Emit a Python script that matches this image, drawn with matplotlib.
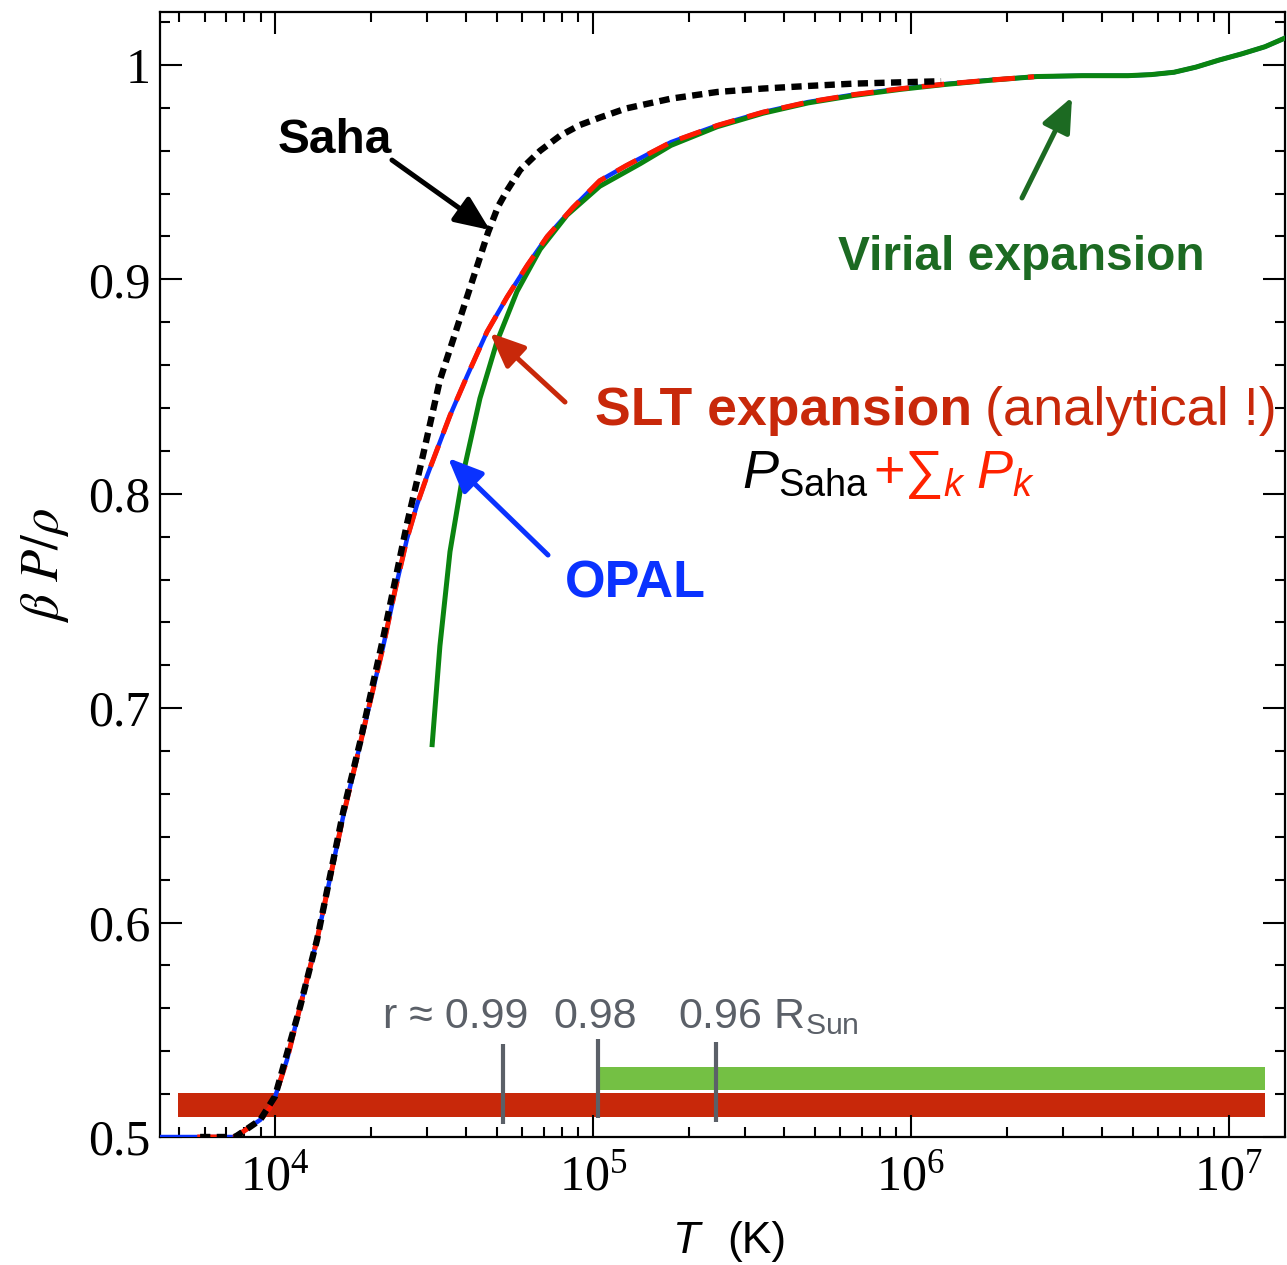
import numpy as np
import matplotlib
matplotlib.use("Agg")
import matplotlib.pyplot as plt

plt.rcParams['mathtext.fontset'] = 'stix'
plt.rcParams['mathtext.rm'] = 'Liberation Sans'
plt.rcParams['mathtext.it'] = 'Liberation Sans:italic'
plt.rcParams['mathtext.bf'] = 'Liberation Sans:bold'
plt.rcParams['mathtext.sf'] = 'Liberation Sans'
plt.rcParams['font.family'] = 'Liberation Sans'

# ---- data (T in K, beta P / rho) ----
opal_T = [4350, 7480, 7930, 8980, 9640, 10000, 10900, 12000, 13550, 16400, 18500,
          21900, 23850, 26000, 27970, 30100, 32400, 35500, 40200, 46400, 53700, 62100,
          71800, 86500, 105000, 127000, 176000, 246000, 343000, 475000, 663000, 925000,
          1.28e6, 1.79e6, 2.49e6, 3.46e6, 4.82e6, 5.70e6, 6.73e6, 7.89e6, 9.33e6,
          1.10e7, 1.30e7, 1.50e7]
opal_y = [0.500, 0.500, 0.5025, 0.508, 0.5135, 0.5187, 0.536, 0.561, 0.592, 0.650, 0.683,
          0.729, 0.755, 0.779, 0.795, 0.8085, 0.821, 0.8365, 0.855, 0.8755, 0.8918, 0.9065,
          0.920, 0.9335, 0.946, 0.953, 0.964, 0.9718, 0.978, 0.9827, 0.9862, 0.9889,
          0.9911, 0.993, 0.9946, 0.995, 0.995, 0.9955, 0.9966, 0.9990, 1.0023,
          1.0052, 1.0085, 1.0125]

slt_T = [5690, 7480, 7930, 8980, 9640, 10000, 10900, 12000, 13550, 16400, 18500,
         21900, 23850, 26000, 27970, 30100, 32400, 35500, 40200, 46400, 53700, 62100,
         71800, 86500, 105000, 127000, 176000, 246000, 343000, 475000, 663000, 925000,
         1.28e6, 1.79e6, 2.44e6]
slt_y = [0.500, 0.500, 0.5025, 0.508, 0.5135, 0.5187, 0.536, 0.561, 0.592, 0.650, 0.683,
         0.729, 0.755, 0.779, 0.795, 0.8085, 0.821, 0.8365, 0.855, 0.8755, 0.8918, 0.9065,
         0.920, 0.9335, 0.946, 0.953, 0.964, 0.9718, 0.978, 0.9827, 0.9862, 0.9889,
         0.9911, 0.993, 0.9945]

virial_T = [31200, 33000, 35500, 39000, 44100, 49900, 57700, 68200, 82900, 105000,
            141000, 176000, 246000, 343000, 475000, 663000, 925000, 1.28e6, 1.79e6,
            2.49e6, 3.46e6, 4.82e6, 5.70e6, 6.73e6, 7.89e6, 9.33e6, 1.10e7, 1.30e7, 1.50e7]
virial_y = [0.683, 0.729, 0.773, 0.809, 0.8445, 0.871, 0.8944, 0.914, 0.930, 0.9434,
            0.954, 0.9625, 0.9712, 0.9775, 0.9823, 0.9858, 0.9886, 0.9909, 0.9929,
            0.9946, 0.995, 0.995, 0.9955, 0.9966, 0.9990, 1.0023, 1.0052, 1.0085, 1.0125]

saha_T = [5810, 7480, 7930, 8980, 10000, 12000, 13550, 16400, 18500, 21900, 26000,
          29200, 33000, 39600, 43500, 46800, 50300, 53700, 59000, 68200, 78800, 91000,
          105300, 127000, 176000, 246000, 343000, 475000, 663000, 925000, 1.245e6]
saha_y = [0.500, 0.500, 0.5025, 0.508, 0.519, 0.561, 0.592, 0.652, 0.684, 0.733, 0.786,
          0.818, 0.853, 0.889, 0.9075, 0.922, 0.934, 0.9415, 0.951, 0.960, 0.967, 0.972,
          0.9755, 0.9797, 0.9843, 0.9874, 0.989, 0.9902, 0.9913, 0.9919, 0.9924]

# solar-profile bands and radius markers
band_red_T = [4950, 1.30e7]
band_red_lo, band_red_hi = 0.5093, 0.5205
band_green_T = [104000, 1.30e7]
band_green_lo, band_green_hi = 0.5219, 0.5326

rmark_T = [52100, 103800, 243800]
rmark_top = [0.5435, 0.5457, 0.5443]
rmark_bot = [0.5061, 0.5089, 0.5071]

ytick_vals = [0.5, 0.6, 0.7, 0.8, 0.9, 1.0]
ytick_labels = ['0.5', '0.6', '0.7', '0.8', '0.9', '1']

# ---- colours ----
c_opal = '#0a32ff'
c_slt = '#ff1a00'
c_virial = '#0a8410'
c_virial_txt = '#1c6a22'
c_slt_txt = '#c8280a'
c_gray = '#5b6068'

fig = plt.figure(figsize=(12.87, 12.65), dpi=100)
ax = fig.add_axes([160/1287, 128/1265, 1125/1287, 1125/1265])

ax.fill_between(band_red_T, band_red_lo, band_red_hi, color='#c8280a', lw=0, zorder=1)
ax.fill_between(band_green_T, band_green_lo, band_green_hi, color='#74c044', lw=0, zorder=1)
ax.vlines(rmark_T, rmark_bot, rmark_top, color=c_gray, lw=3, zorder=2)

ax.plot(opal_T, opal_y, color=c_opal, lw=3.2, zorder=3)
ax.plot(virial_T, virial_y, color=c_virial, lw=3.6, zorder=4)
ax.plot(slt_T, slt_y, color=c_slt, lw=3.6, dashes=(4.5, 2.6), zorder=5)
ax.plot(saha_T, saha_y, color='black', lw=4.6, dashes=(1.6, 1.0), zorder=6)

ax.set_xscale('log')
ax.set_xlim(4345, 1.503e7)
ax.set_ylim(0.5, 1.0247)
ax.set_yticks(ytick_vals)
ax.set_yticklabels(ytick_labels)
ax.yaxis.set_minor_locator(matplotlib.ticker.MultipleLocator(0.02))
ax.xaxis.set_major_locator(matplotlib.ticker.LogLocator(base=10, numticks=10))
ax.xaxis.set_minor_locator(matplotlib.ticker.LogLocator(base=10, subs=np.arange(2, 10), numticks=20))
ax.xaxis.set_minor_formatter(matplotlib.ticker.NullFormatter())

ax.tick_params(which='both', direction='in', top=True, right=True, width=1.5,
               labelsize=36, labelfontfamily='Liberation Serif')
ax.tick_params(which='major', length=16)
ax.tick_params(which='minor', length=7.5)
ax.tick_params(axis='x', pad=12)
ax.tick_params(axis='y', pad=7)
for s in ax.spines.values():
    s.set_linewidth(1.6)

# axis labels
ax.text(-0.102, 0.508, r'$\beta\ P/\rho$', transform=ax.transAxes, rotation=90,
        ha='center', va='center', fontsize=38)
ax.text(0.456, -0.1031, 'T', transform=ax.transAxes, style='italic',
        ha='left', va='baseline', fontsize=32)
ax.text(0.504, -0.1031, '(K)', transform=ax.transAxes,
        ha='left', va='baseline', fontsize=32)

# annotations
def arrow(tail, tip, color, lw=3.6):
    ax.annotate('', xy=tip, xytext=tail, xycoords='axes fraction',
                textcoords='axes fraction',
                arrowprops=dict(arrowstyle='-|>,head_length=1.05,head_width=0.45',
                                color=color, lw=lw, shrinkA=0, shrinkB=0,
                                mutation_scale=20), zorder=7)

ax.text(0.1049, 0.8747, 'Saha', transform=ax.transAxes, fontsize=34.5,
        fontweight='bold', ha='left', va='baseline')
arrow((0.2062, 0.8684), (0.2933, 0.8062), 'black')

ax.text(0.6027, 0.7707, 'Virial expansion', transform=ax.transAxes, fontsize=34.5,
        fontweight='bold', color=c_virial_txt, ha='left', va='baseline')
arrow((0.7662, 0.8347), (0.8107, 0.9244), c_virial_txt)

ax.text(0.3867, 0.6329, 'SLT expansion', transform=ax.transAxes, fontsize=38.5,
        fontweight='bold', color=c_slt_txt, ha='left', va='baseline')
ax.text(0.7333, 0.6329, '(analytical !)', transform=ax.transAxes, fontsize=39,
        color=c_slt_txt, ha='left', va='baseline')
arrow((0.36, 0.6533), (0.2933, 0.7147), c_slt_txt)

ax.text(0.5173, 0.5769, r'$P_{\mathrm{Saha}}$', transform=ax.transAxes, fontsize=39,
        color='black', ha='left', va='baseline', math_fontfamily='custom')
ax.text(0.6338, 0.5769, r'$+{\sum}_k\;P_k$', transform=ax.transAxes, fontsize=39,
        color='#ff2200', ha='left', va='baseline', math_fontfamily='custom')

ax.text(0.36, 0.48, 'OPAL', transform=ax.transAxes, fontsize=37.5,
        fontweight='bold', color=c_opal, ha='left', va='baseline')
arrow((0.3449, 0.5173), (0.256, 0.6036), c_opal)

ax.text(0.1982, 0.0969, 'r ≈ 0.99', transform=ax.transAxes, fontsize=31,
        color=c_gray, ha='left', va='baseline')
ax.text(0.3493, 0.0969, '0.98', transform=ax.transAxes, fontsize=31,
        color=c_gray, ha='left', va='baseline')
ax.text(0.4604, 0.0969, r'0.96 R$_{\mathrm{Sun}}$', transform=ax.transAxes, fontsize=31,
        color=c_gray, ha='left', va='baseline', math_fontfamily='custom')

fig.savefig('out.png', dpi=100)
